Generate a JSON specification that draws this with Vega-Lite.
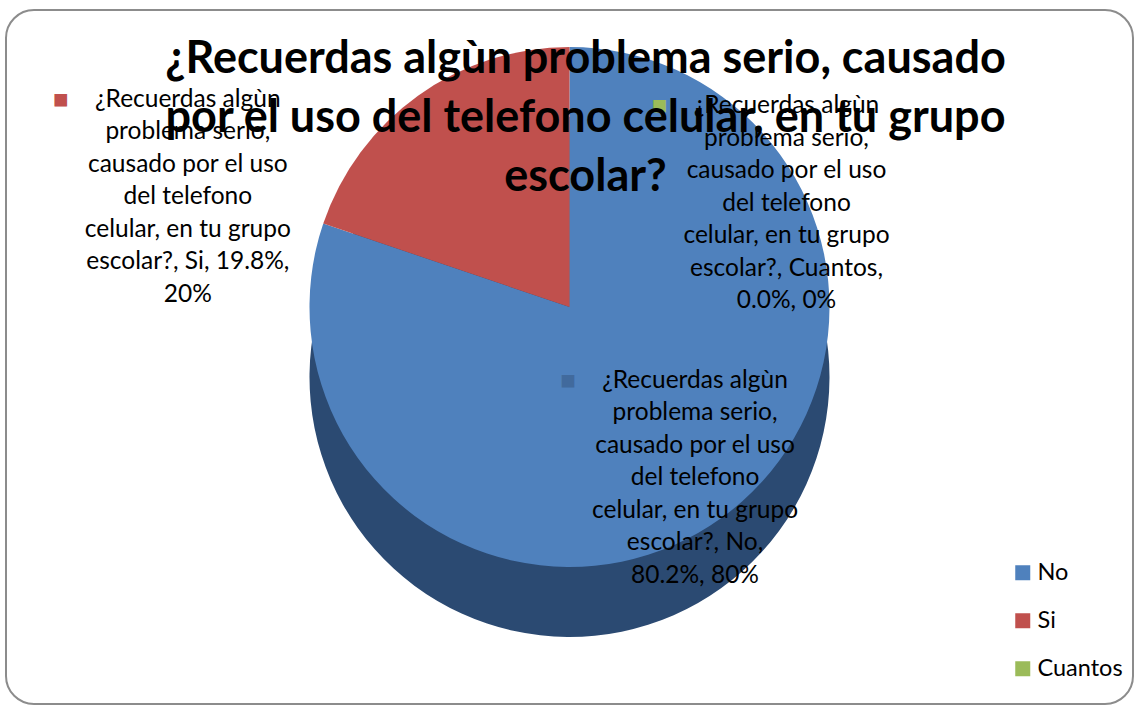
{
  "$schema": "https://vega.github.io/schema/vega-lite/v6.json",
  "width": 1135,
  "height": 706,
  "autosize": {"type": "fit", "contains": "padding"},
  "padding": {"left": 6, "top": 10, "right": 2, "bottom": 2},
  "background": "white",
  "view": {"stroke": "#8c8c8c", "strokeWidth": 2, "cornerRadius": 28, "fill": "white"},
  "title": {
    "text": ["¿Recuerdas algùn problema serio, causado", "por el uso del telefono celular, en tu grupo", "escolar?"],
    "font": "Lato",
    "fontSize": 45,
    "fontWeight": "bold",
    "lineHeight": 59,
    "color": "#000000",
    "anchor": "middle",
    "dx": 16,
    "offset": -190
  },
  "config": {
    "text": {"font": "Lato"},
    "legend": {"labelFont": "Lato"}
  },
  "data": {
    "values": [
      {"respuesta": "No", "porcentaje": 80.2, "etiqueta": "¿Recuerdas algùn\nproblema serio,\ncausado por el uso\ndel telefono\ncelular, en tu grupo\nescolar?, No,\n80.2%, 80%"},
      {"respuesta": "Si", "porcentaje": 19.8, "etiqueta": "¿Recuerdas algùn\nproblema serio,\ncausado por el uso\ndel telefono\ncelular, en tu grupo\nescolar?, Si, 19.8%,\n20%"},
      {"respuesta": "Cuantos", "porcentaje": 0.0, "etiqueta": "¿Recuerdas algùn\nproblema serio,\ncausado por el uso\ndel telefono\ncelular, en tu grupo\nescolar?, Cuantos,\n0.0%, 0%"}
    ]
  },
  "transform": [
    {"stack": "porcentaje", "groupby": [], "sort": [{"field": "respuesta", "order": "ascending"}], "as": ["t0", "t1"]},
    {"calculate": "(datum.t0 + datum.t1) / 2", "as": "tm"}
  ],
  "layer": [
    {
      "mark": {"type": "arc", "outerRadius": 260, "yOffset": 20, "color": "#2B4A72"},
      "encoding": {
        "theta": {"field": "t0", "type": "quantitative", "scale": {"domain": [0, 100]}},
        "theta2": {"field": "t1"}
      }
    },
    {
      "mark": {"type": "arc", "outerRadius": 260, "yOffset": -50},
      "encoding": {
        "theta": {"field": "t0", "type": "quantitative", "scale": {"domain": [0, 100]}},
        "theta2": {"field": "t1"},
        "color": {
          "field": "respuesta",
          "type": "nominal",
          "title": null,
          "sort": ["No", "Si", "Cuantos"],
          "scale": {"domain": ["No", "Si", "Cuantos"], "range": ["#4F81BD", "#C0504D", "#9BBB59"]},
          "legend": {
            "orient": "none",
            "legendX": 1005,
            "legendY": 551,
            "symbolType": "square",
            "symbolSize": 225,
            "symbolStrokeWidth": 0,
            "labelFontSize": 23.5,
            "labelColor": "#000000",
            "rowPadding": 23,
            "labelOffset": 3
          }
        }
      }
    },
    {
      "transform": [{"filter": "datum.respuesta === 'No'"}],
      "mark": {"type": "text", "radius": 200, "dx": 9, "dy": -139, "fontSize": 24.5, "lineHeight": 32.5, "lineBreak": "\n", "align": "center", "baseline": "middle", "color": "#000000"},
      "encoding": {
        "theta": {"field": "tm", "type": "quantitative", "scale": {"domain": [0, 100]}},
        "text": {"field": "etiqueta"}
      }
    },
    {
      "transform": [{"filter": "datum.respuesta === 'No'"}],
      "mark": {"type": "text", "radius": 200, "dx": -118, "dy": -139, "fontSize": 26, "align": "center", "baseline": "middle", "opacity": 0.8},
      "encoding": {
        "theta": {"field": "tm", "type": "quantitative", "scale": {"domain": [0, 100]}},
        "text": {"value": "■"},
        "color": {"value": "#3E6596"}
      }
    },
    {
      "transform": [{"filter": "datum.respuesta === 'Si'"}],
      "mark": {"type": "text", "radius": 250, "dx": -236, "dy": -54, "fontSize": 24.5, "lineHeight": 32.5, "lineBreak": "\n", "align": "center", "baseline": "middle", "color": "#000000"},
      "encoding": {
        "theta": {"field": "tm", "type": "quantitative", "scale": {"domain": [0, 100]}},
        "text": {"field": "etiqueta"}
      }
    },
    {
      "transform": [{"filter": "datum.respuesta === 'Si'"}],
      "mark": {"type": "text", "radius": 250, "dx": -363, "dy": -54, "fontSize": 26, "align": "center", "baseline": "middle"},
      "encoding": {
        "theta": {"field": "tm", "type": "quantitative", "scale": {"domain": [0, 100]}},
        "text": {"value": "■"},
        "color": {"field": "respuesta", "type": "nominal", "legend": null}
      }
    },
    {
      "transform": [{"filter": "datum.respuesta === 'Cuantos'"}],
      "mark": {"type": "text", "radius": 260, "dx": 217, "dy": 9, "fontSize": 24.5, "lineHeight": 32.5, "lineBreak": "\n", "align": "center", "baseline": "middle", "color": "#000000"},
      "encoding": {
        "theta": {"field": "tm", "type": "quantitative", "scale": {"domain": [0, 100]}},
        "text": {"field": "etiqueta"}
      }
    },
    {
      "transform": [{"filter": "datum.respuesta === 'Cuantos'"}],
      "mark": {"type": "text", "radius": 260, "dx": 90, "dy": 9, "fontSize": 26, "align": "center", "baseline": "middle"},
      "encoding": {
        "theta": {"field": "tm", "type": "quantitative", "scale": {"domain": [0, 100]}},
        "text": {"value": "■"},
        "color": {"field": "respuesta", "type": "nominal", "legend": null}
      }
    }
  ]
}
